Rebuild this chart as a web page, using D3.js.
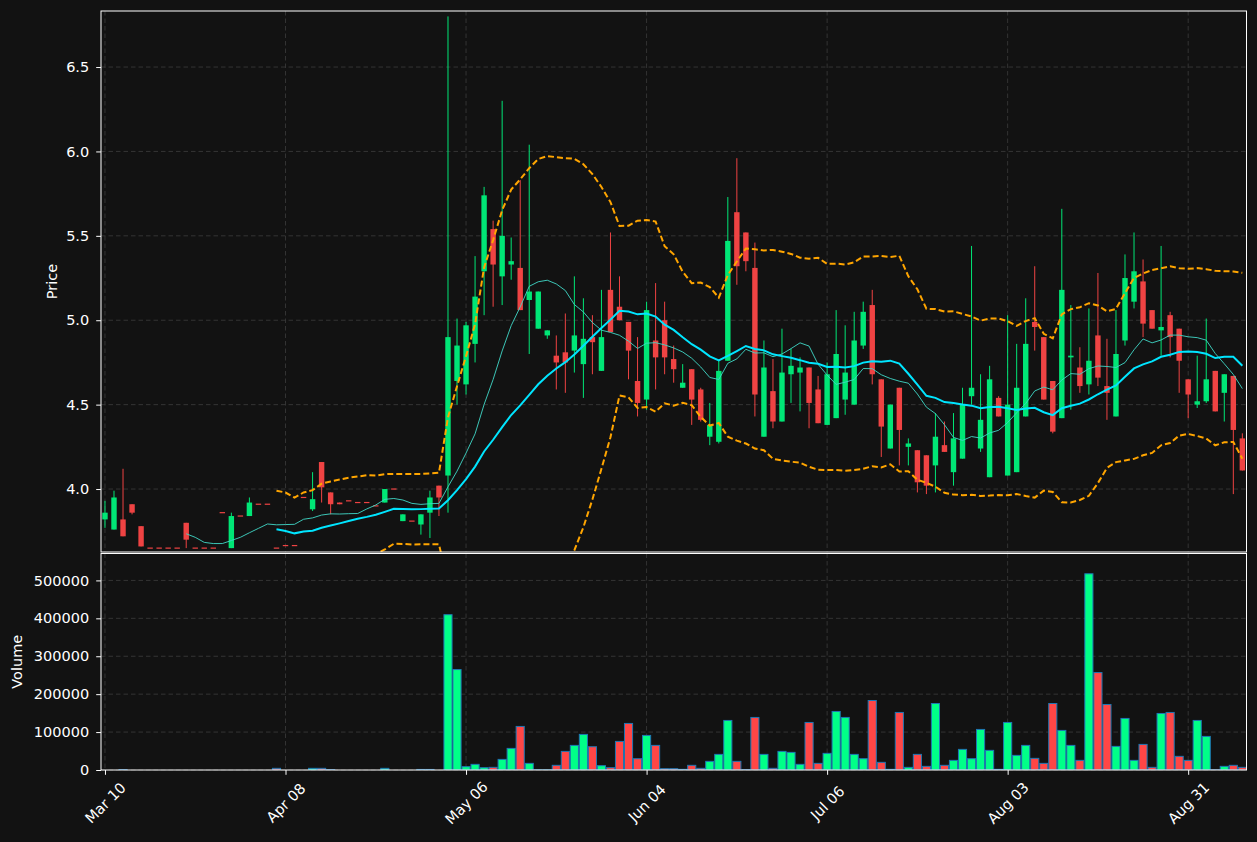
<!DOCTYPE html>
<html><head><meta charset="utf-8">
<script src="https://cdn.jsdelivr.net/npm/d3@7"></script>
<style>
html,body{margin:0;padding:0;background:#121212;}
svg{display:block;font-family:"DejaVu Sans",sans-serif;}
</style></head><body>
<svg id="chart" width="1257" height="842"></svg>
<script>
// ---- data (trading-day index 0..126) ----
const tickIndex = [0, 20, 40, 60, 80, 100, 120];
const tickLabels = ["Mar 10", "Apr 08", "May 06", "Jun 04", "Jul 06", "Aug 03", "Aug 31"];
const priceTicks = [4.0, 4.5, 5.0, 5.5, 6.0, 6.5];
const volumeTicks = [0, 100000, 200000, 300000, 400000, 500000];

const opens = [3.82,3.76,3.82,3.91,3.78,3.65,3.65,3.65,3.65,3.80, 3.65,3.65,3.65,3.86,3.65,3.84,3.84,3.91,3.91,3.65,
 3.665,3.665,3.95,3.88,4.16,3.98,3.92,3.93,3.92,3.92, 3.90,3.92,4.00,3.81,3.81,3.79,3.86,4.02,4.08,4.64,
 4.62,4.86,5.29,5.54,5.26,5.33,5.31,5.12,4.95,4.91, 4.79,4.81,4.82,4.74,4.90,4.70,5.18,5.08,4.99,4.64,
 4.53,4.88,5.00,4.77,4.60,4.71,4.59,4.31,4.28,4.76, 5.64,5.52,5.31,4.31,4.58,4.40,4.68,4.69,4.72,4.59,
 4.38,4.42,4.53,4.50,4.85,5.09,4.65,4.24,4.60,4.25, 4.23,4.20,4.14,4.26,4.10,4.18,4.55,4.24,4.07,4.54,
 4.08,4.10,4.43,4.99,4.90,4.64,4.42,4.78,4.72,4.62, 4.91,4.61,4.43,4.88,5.11,5.23,5.06,4.94,5.03,4.95,
 4.65,4.50,4.52,4.70,4.57,4.67,4.30];
const highs = [3.93,3.99,4.12,3.91,3.78,3.65,3.65,3.65,3.65,3.80, 3.65,3.65,3.65,3.86,3.86,3.84,3.95,3.91,3.91,3.65,
 3.665,3.665,3.95,4.10,4.16,3.98,3.92,3.93,3.92,3.92, 3.90,4.00,4.00,3.85,3.81,3.85,3.99,4.02,6.80,5.01,
 4.99,5.38,5.79,5.59,6.30,5.49,5.83,6.04,5.17,4.94, 4.91,5.04,5.26,5.13,5.03,5.18,5.52,5.26,4.99,4.90,
 5.11,5.22,5.11,4.85,4.74,4.71,4.60,4.51,4.76,5.73, 5.96,5.52,5.46,4.88,4.77,4.95,4.83,4.78,4.72,4.67,
 4.75,5.06,4.97,5.05,5.11,5.18,4.65,4.50,4.60,4.30, 4.23,4.20,4.45,4.40,4.45,4.60,5.44,4.68,4.73,4.55,
 5.03,4.86,5.13,5.32,4.90,4.64,5.66,5.09,4.84,5.07, 5.28,4.89,5.06,5.39,5.52,5.36,5.06,5.44,5.05,4.95,
 4.65,4.79,5.01,4.70,4.68,4.67,4.33];
const lows = [3.77,3.76,3.72,3.85,3.66,3.65,3.65,3.65,3.65,3.65, 3.65,3.65,3.65,3.86,3.65,3.84,3.84,3.91,3.91,3.65,
 3.665,3.665,3.95,3.87,3.92,3.85,3.91,3.93,3.92,3.92, 3.90,3.92,4.00,3.81,3.81,3.73,3.71,3.84,3.86,4.50,
 4.56,4.75,5.03,5.08,5.09,5.24,5.06,4.80,4.95,4.89, 4.59,4.57,4.69,4.54,4.68,4.70,4.93,5.00,4.65,4.43,
 4.47,4.59,4.68,4.63,4.60,4.38,4.40,4.26,4.27,4.76, 5.21,5.29,4.43,4.31,4.36,4.40,4.51,4.46,4.36,4.39,
 4.38,4.42,4.44,4.50,4.83,4.62,4.19,4.24,4.14,4.14, 3.98,3.97,3.98,4.22,4.02,4.18,4.50,4.22,4.07,4.43,
 4.08,4.10,4.43,4.82,4.53,4.33,4.42,4.47,4.57,4.56, 4.61,4.41,4.43,4.85,5.07,4.90,4.95,4.79,4.78,4.57,
 4.42,4.48,4.51,4.46,4.40,3.97,4.11];
const closes = [3.86,3.95,3.72,3.86,3.66,3.65,3.65,3.65,3.65,3.70, 3.65,3.65,3.65,3.86,3.84,3.84,3.92,3.91,3.91,3.65,
 3.665,3.665,3.95,3.94,4.01,3.91,3.91,3.93,3.92,3.92, 3.90,4.00,4.00,3.85,3.81,3.85,3.95,3.95,4.90,4.85,
 4.97,5.14,5.74,5.33,5.50,5.35,5.06,5.17,5.17,4.94, 4.75,4.75,4.91,4.89,4.87,4.90,4.93,5.00,4.82,4.51,
 5.06,4.78,4.78,4.71,4.63,4.53,4.41,4.38,4.70,5.47, 5.32,5.35,4.56,4.72,4.40,4.69,4.73,4.72,4.51,4.39,
 4.68,4.80,4.69,4.88,5.05,4.68,4.37,4.50,4.35,4.27, 4.04,4.02,4.31,4.22,4.30,4.50,4.60,4.41,4.65,4.43,
 4.50,4.60,4.86,4.96,4.53,4.34,5.18,4.79,4.61,4.76, 4.66,4.57,4.80,5.25,5.29,4.98,4.95,4.96,4.90,4.76,
 4.56,4.52,4.65,4.46,4.68,4.35,4.11];
const volumes = [0,0,1000,0,0,0,0,0,0,0, 0,0,0,0,0,0,0,0,0,4400,
 0,0,0,4400,4400,1000,0,0,0,0, 0,4400,0,0,0,1500,1500,0,409600,264900,
 8800,14900,6100,7000,28000,57000,114900,17500,500,500, 12300,49100,64900,93900,61400,11400,6100,75400,122800,29800,
 91200,64900,3500,3500,1800,12300,4400,22800,41200,130700, 22800,1000,138600,41200,4400,49100,46500,14900,125400,17500,
 43900,154400,138600,41200,29800,183300,20200,1800,151800,7000, 41200,9600,175400,12300,25400,54400,29800,107000,51800,1800,
 125400,38600,64900,30700,17500,175400,104400,64900,25400,517500, 257000,172800,62300,136000,25400,67500,7000,149100,151800,36000,
 25400,130700,88600,500,9600,12300,7000];

// ---- indicators derived from closes ----
function rolling(arr, n, fn) {
  return arr.map((_, i) => i < n - 1 ? null : fn(arr.slice(i - n + 1, i + 1)));
}
const popStd = w => { const m = d3.mean(w); return Math.sqrt(d3.mean(w, v => (v - m) * (v - m))); };
const ma10 = rolling(closes, 10, w => d3.mean(w));
const ma20 = rolling(closes, 20, w => d3.mean(w));
const sd20 = rolling(closes, 20, popStd);
const bbUp = ma20.map((m, i) => m === null ? null : m + 2 * sd20[i]);
const bbLo = ma20.map((m, i) => m === null ? null : m - 2 * sd20[i]);

// ---- layout ----
const W = 1257, H = 842;
const L = 101, R = 1246.5;
const pT = 11, pB = 552, vT = 553.5, vB = 770;
const BG = "#121212";
const UP = "#00e676", DN = "#ef4343";
const VUP = "#00ff88", VDN = "#ff4646";

const svg = d3.select("#chart");
svg.append("rect").attr("width", W).attr("height", H).attr("fill", BG);

const x = d3.scaleLinear().domain([-0.44, 126.46]).range([L, R]);
const yP = d3.scaleLinear().domain([3.627, 6.832]).range([pB, pT]);
const yV = d3.scaleLinear().domain([0, 571000]).range([vB, vT]);

const defs = svg.append("defs");
defs.append("clipPath").attr("id", "clipP").append("rect").attr("x", L).attr("y", pT).attr("width", R - L).attr("height", pB - pT);
defs.append("clipPath").attr("id", "clipV").append("rect").attr("x", L).attr("y", vT).attr("width", R - L).attr("height", vB - vT);

// grid
const grid = svg.append("g").attr("stroke", "#3c3c3c").attr("stroke-width", 0.8).attr("stroke-dasharray", "4.5,3");
priceTicks.forEach(t => grid.append("line").attr("x1", L).attr("x2", R).attr("y1", yP(t)).attr("y2", yP(t)));
volumeTicks.forEach(t => grid.append("line").attr("x1", L).attr("x2", R).attr("y1", yV(t)).attr("y2", yV(t)));
tickIndex.forEach(t => {
  grid.append("line").attr("x1", x(t)).attr("x2", x(t)).attr("y1", pT).attr("y2", pB);
  grid.append("line").attr("x1", x(t)).attr("x2", x(t)).attr("y1", vT).attr("y2", vB);
});

const idx = d3.range(closes.length);
const step = x(1) - x(0);

// volume bars
const vbw = step * 0.9;
svg.append("g").attr("clip-path", "url(#clipV)").selectAll("rect")
  .data(idx.filter(i => volumes[i] > 0)).join("rect")
  .attr("x", i => x(i) - vbw / 2).attr("width", vbw)
  .attr("y", i => yV(volumes[i])).attr("height", i => yV(0) - yV(volumes[i]))
  .attr("fill", i => closes[i] > opens[i] ? VUP : VDN)
  .attr("stroke", "#1f77b4").attr("stroke-width", 1);

// candles
const cg = svg.append("g").attr("clip-path", "url(#clipP)");
const bw = step * 0.6;
cg.selectAll("line.wick").data(idx).join("line").attr("class", "wick")
  .attr("x1", i => x(i)).attr("x2", i => x(i))
  .attr("y1", i => yP(highs[i])).attr("y2", i => yP(lows[i]))
  .attr("stroke", i => closes[i] > opens[i] ? UP : DN).attr("stroke-width", 1);
cg.selectAll("rect.body").data(idx).join("rect").attr("class", "body")
  .attr("x", i => x(i) - bw / 2).attr("width", bw)
  .attr("y", i => Math.min(yP(opens[i]), yP(closes[i])) - (Math.abs(yP(opens[i]) - yP(closes[i])) < 1.2 ? 0.6 : 0))
  .attr("height", i => Math.max(1.2, Math.abs(yP(opens[i]) - yP(closes[i]))))
  .attr("fill", i => closes[i] > opens[i] ? UP : DN);

// indicator lines
const lg = svg.append("g").attr("clip-path", "url(#clipP)").attr("fill", "none");
const lineOf = arr => d3.line().defined(i => arr[i] !== null).x(i => x(i)).y(i => yP(arr[i]))(idx);
lg.append("path").attr("d", lineOf(bbUp)).attr("stroke", "#ffa500").attr("stroke-width", 2).attr("stroke-dasharray", "6,3");
lg.append("path").attr("d", lineOf(bbLo)).attr("stroke", "#ffa500").attr("stroke-width", 2).attr("stroke-dasharray", "6,3");
lg.append("path").attr("d", lineOf(ma10)).attr("stroke", "#40d8c8").attr("stroke-width", 1).attr("opacity", 0.9);
lg.append("path").attr("d", lineOf(ma20)).attr("stroke", "#00e5ff").attr("stroke-width", 2);

// spines
svg.append("rect").attr("x", L).attr("y", pT).attr("width", R - L).attr("height", pB - pT)
  .attr("fill", "none").attr("stroke", "#ffffff").attr("stroke-width", 1);
svg.append("rect").attr("x", L).attr("y", vT).attr("width", R - L).attr("height", vB - vT)
  .attr("fill", "none").attr("stroke", "#ffffff").attr("stroke-width", 1);

// axes
const FS = "14.5px";
function styleAxis(g) {
  g.select(".domain").remove();
  g.selectAll(".tick line").attr("stroke", "#ffffff");
  g.selectAll(".tick text").attr("fill", "#ffffff").style("font-size", FS).style("font-family", "DejaVu Sans");
}
svg.append("g").attr("transform", `translate(${L},0)`)
  .call(d3.axisLeft(yP).tickValues(priceTicks).tickFormat(d3.format(".1f")).tickSize(4.8).tickPadding(7))
  .call(styleAxis);
svg.append("g").attr("transform", `translate(${L},0)`)
  .call(d3.axisLeft(yV).tickValues(volumeTicks).tickFormat(d3.format("d")).tickSize(4.8).tickPadding(7))
  .call(styleAxis);

const xa = svg.append("g").attr("transform", `translate(0,${vB})`)
  .call(d3.axisBottom(x).tickValues(tickIndex).tickFormat(i => tickLabels[tickIndex.indexOf(i)]).tickSize(4.8).tickPadding(7))
  .call(styleAxis);
xa.selectAll(".tick text")
  .attr("y", 0).attr("dy", null)
  .attr("text-anchor", "middle").attr("dominant-baseline", "central")
  .attr("transform", "translate(0,33) rotate(-45)");

svg.append("text").attr("transform", `translate(52,${(pT + pB) / 2}) rotate(-90)`)
  .attr("text-anchor", "middle").attr("dominant-baseline", "central")
  .attr("fill", "#ffffff").style("font-size", FS).text("Price");
svg.append("text").attr("transform", `translate(17,${(vT + vB) / 2}) rotate(-90)`)
  .attr("text-anchor", "middle").attr("dominant-baseline", "central")
  .attr("fill", "#ffffff").style("font-size", FS).text("Volume");
</script>
</body></html>
